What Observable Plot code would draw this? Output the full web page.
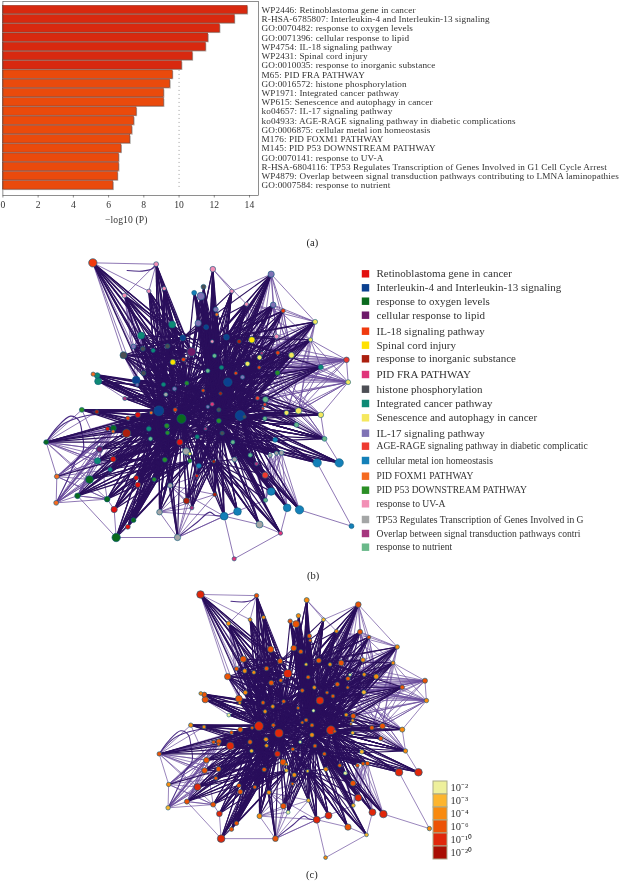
<!DOCTYPE html>
<html><head><meta charset="utf-8">
<script src="https://cdn.jsdelivr.net/npm/d3@7"></script>
<script src="https://cdn.jsdelivr.net/npm/@observablehq/plot@0.6"></script>
<style>
html,body{margin:0;padding:0;background:#fff}
#page{position:relative;width:628px;height:881px;overflow:hidden;font-family:"Liberation Serif",serif;color:#333;filter:blur(.3px)}
#page>*{position:absolute}
#page svg{overflow:visible;background:transparent}
.cap{font-size:10.5px;color:#222}
</style></head><body><div id="page"></div>
<script>
// ---------- panel (a) ----------
const termLabels=["WP2446: Retinoblastoma gene in cancer","R-HSA-6785807: Interleukin-4 and Interleukin-13 signaling","GO:0070482: response to oxygen levels","GO:0071396: cellular response to lipid","WP4754: IL-18 signaling pathway","WP2431: Spinal cord injury","GO:0010035: response to inorganic substance","M65: PID FRA PATHWAY","GO:0016572: histone phosphorylation","WP1971: Integrated cancer pathway","WP615: Senescence and autophagy in cancer","ko04657: IL-17 signaling pathway","ko04933: AGE-RAGE signaling pathway in diabetic complications","GO:0006875: cellular metal ion homeostasis","M176: PID FOXM1 PATHWAY","M145: PID P53 DOWNSTREAM PATHWAY","GO:0070141: response to UV-A","R-HSA-6804116: TP53 Regulates Transcription of Genes Involved in G1 Cell Cycle Arrest","WP4879: Overlap between signal transduction pathways contributing to LMNA laminopathies","GO:0007584: response to nutrient"];
const termValues=[13.89,13.16,12.32,11.66,11.52,10.77,10.16,9.64,9.5,9.14,9.14,7.59,7.45,7.34,7.23,6.73,6.59,6.59,6.52,6.27];
const xTicks=[0,2,4,6,8,10,12,14];
// ---------- panel (b) legend ----------
const clusterNames=["Retinoblastoma gene in cancer","Interleukin-4 and Interleukin-13 signaling","response to oxygen levels","cellular response to lipid","IL-18 signaling pathway","Spinal cord injury","response to inorganic substance","PID FRA PATHWAY","histone phosphorylation","Integrated cancer pathway","Senescence and autophagy in cancer","IL-17 signaling pathway","AGE-RAGE signaling pathway in diabetic complicatic","cellular metal ion homeostasis","PID FOXM1 PATHWAY","PID P53 DOWNSTREAM PATHWAY","response to UV-A","TP53 Regulates Transcription of Genes Involved in G","Overlap between signal transduction pathways contri","response to nutrient"];
const clusterColors=["#e2100f","#0b4090","#0a6a1e","#6d1a6a","#f03a0e","#ffe100","#ab1f0e","#e0357a","#4d4f55","#0d8a75","#f5e85e","#7f72b5","#ee3a30","#1480b8","#f56a20","#2b8f25","#f28fb5","#a4a6a6","#a5367e","#6ab98a"];
const legendRows=[273.3,287.3,300.7,314.7,330.7,344.7,358.3,374,388.7,403,417.3,432.7,445.7,460,475.7,489.7,503.3,519,533,546.7];
// ---------- panel (c) legend ----------
const pLabels=["10⁻²","10⁻³","10⁻⁴","10⁻⁶","10⁻¹⁰","10⁻²⁰"];
const pColors=["#eef09c","#fdb52e","#f98a0e","#ec5306","#e0270a","#a80e02"];
// ---------- network nodes (numbered from 1) ----------
const nodeX=[217,407,577,752,549,521,541,431,385,312,
634,678,758,586,589,788,884,455,533,557,
362,487,618,575,656,694,768,870,339,367,
398,441,513,309,582,724,717,772,813,489,
457,978,681,716,901,603,562,646,771,369,
218,230,233,347,622,666,983,499,429,462,
350,548,436,600,313,711,735,733,727,575,
562,464,595,415,184,229,392,352,322,659,
672,798,834,901,733,483,595,439,279,261,
278,318,385,828,441,555,605,390,530,77,
764,912,478,637,237,497,508,689,749,768,
783,278,231,433,508,642,580,890,956,708,
535,269,109,734,529,207,347,401,352,449,
752,583,171,260,735,498,107,281,514,417,
651,800,837,611,717,339,322,780,287,471,
641,993];
const nodeY=[37,41,56,71,109,127,137,114,122,135,
122,161,163,177,192,181,214,222,218,230,
255,262,260,273,273,268,258,268,288,295,
300,287,304,314,316,308,321,307,314,327,
335,328,340,351,350,351,361,368,367,368,
371,375,392,389,395,380,395,398,402,415,
403,420,432,429,444,443,447,462,474,461,
469,478,478,481,478,484,487,493,503,495,
499,487,481,493,504,505,511,526,533,535,
543,548,535,523,547,535,548,565,559,575,
568,565,575,575,596,603,610,614,614,608,
607,626,631,628,631,627,633,637,637,640,
646,657,678,674,676,687,682,687,703,705,
723,732,736,746,749,751,757,777,772,785,
783,772,778,797,822,809,829,848,861,861,
925,827];
const nodeSize=[12,7,8,9,7,7,11,6,6,7,
6,6,8,7,5,6,7,10,9,7,
10,8,8,5,6,9,7,6,7,7,
6,7,13,10,6,5,7,6,8,6,
8,8,7,5,7,6,6,5,7,7,
6,8,10,11,12,6,7,6,6,6,
5,5,6,5,6,6,8,5,4,6,
5,6,6,14,7,6,5,8,6,14,
5,7,9,8,6,13,7,7,8,6,
5,12,7,7,6,5,6,6,6,7,
7,7,9,6,9,10,5,6,6,6,
7,8,9,7,6,7,5,12,12,6,
7,6,7,9,5,11,7,6,8,7,
11,6,8,8,6,9,7,9,6,8,
11,11,12,11,10,7,7,6,12,9,
6,7];
const nodeCluster=[4,16,16,11,8,13,11,16,16,16,
16,16,11,11,14,4,10,9,11,1,
9,1,1,16,6,5,16,10,11,8,
9,8,3,8,19,18,10,4,10,4,
5,12,10,4,9,9,19,4,15,8,
14,9,9,1,1,11,10,15,9,11,
11,4,17,6,18,12,19,12,12,7,
11,4,8,1,15,6,14,0,4,1,
8,10,10,10,19,2,15,15,2,0,
14,6,9,19,15,18,8,19,9,2,
13,19,0,19,3,17,10,19,17,17,
17,0,9,15,15,17,6,13,13,18,
13,9,14,12,0,2,0,15,0,17,
13,6,2,2,19,6,14,0,18,17,
13,13,13,13,17,2,0,7,2,17,
7,13];
const nodeP=[4,3,2,3,2,3,3,2,2,2,
1,2,3,3,3,3,2,3,3,3,
3,3,3,1,2,3,2,2,3,2,
2,3,4,3,3,0,3,2,2,3,
3,3,3,3,3,2,3,3,1,2,
2,3,3,3,4,3,2,3,3,2,
2,3,2,0,0,2,3,2,3,3,
3,3,3,4,2,2,3,3,3,4,
3,3,3,2,1,4,2,2,3,3,
3,4,3,3,2,0,3,1,3,3,
1,2,4,3,3,3,2,3,3,3,
3,3,3,3,1,2,1,4,4,0,
2,3,2,3,3,4,3,3,3,2,
4,1,3,3,1,3,1,4,0,2,
4,4,4,4,3,3,3,1,4,3,
2,2];
// heavy bundles: every node of the first list is joined to every node of the second
const heavyBundles=[
[[1,2,8,9,10,21,29,30,31,32,34,50],[22,33,41,40,58,59,60,74,72,63]],
[[3,5,6,7,14,15,19,20,4,11,12,13],[24,35,47,46,64,70,71,86,87,73]],
[[16,17,26,27,28,37,38,39,36,43,44,48,25,45,49],[46,64,55,73,87,80,71,23]],
[[82,83,84,85,94,102,67,66,68,69,81],[80,73,87,55,64]],
[[101,102,108,109,110,111,118,119,120,124,131,135,142,143,116,104],[80,87,104,97,73]],
[[121,125,132,136,139,141,144,145,148,117],[87,97,96,86,117,99]],
[[138,146,147,149,134,140,130,128,127,129,126,133],[114,103,88,86,95,115,74]],
[[75,76,77,78,79,89,90,91,92,93,98,105,112,113,122,100],[74,88,95,72,86,103]],
[[51,52,53,54,59,61,63,65],[74,72,60,86,73,62]],
[[74,86,72,60,58,88,95,103,99],[87,73,70,71,64,62,97,96,104,46,47,80,55]],
[[18,22,33,41,40,32],[74,86,72,58,47,35]],
[[23,24,35,46,47],[55,80,87,73,86,58]],
[[114,115,121,125],[87,73,86,97]]
];
// heavy fans: [node, nodes it is joined to]
const heavyFans=[
[74,[21,29,30,31,34,50,52,53,54,61,59,60,63,75,76,77,78,79,89,90,92,93,88,72,86,58,41,32,22,18,10,9,8,2,100,105,112,113,122,127,129,128,95,98,103,114,126,134,138,147,149,146,140,130]],
[86,[72,58,59,60,63,88,95,103,99,114,115,121,125,136,130,128,127,129,138,147,149,146,140,150,139,47,46,35,24,3,7,19,20,87,73,70,71,62,64,97,96,117,104]],
[80,[55,64,73,87,81,85,82,83,84,67,68,69,66,94,102,101,108,109,110,111,118,119,104,116,120,124,131,135,142,143,48,56,44,43,37,39,38,49,45,17,28,13,46,47,25]],
[87,[96,97,99,104,116,117,121,125,132,136,144,141,145,148,131,142,143,135,120,108,109,118,119,102,94,71,70,73,64,62,46,47,35,24,23,12,4,14,19,20,3,72,58]],
[55,[64,56,48,46,25,23,26,43,44,37,36,38,39,16,17,28,13,27,12,4,49,45,66,67,73,81,71,70]],
[64,[46,47,35,24,19,14,7,5,3,23,11,4,58,62,60,59,72,70,71,73]],
[103,[89,90,91,92,93,98,105,112,113,122,123,126,127,128,129,133,134,138,146,147,149,130,140,114,115,121]],
[114,[112,113,122,126,127,128,129,133,134,138,146,147,149,140,130]],
[117,[125,132,136,144,141,145,148,139,116,131,124,135]],
[22,[1,2,8,9,10,21,29,30,31,32,33,41,40,18,20,24,4,12,11]],
[40,[1,8,9,10,2,34,29]],
[58,[1,2,8,9,10,18,21,29,30,31,32,33,34,41,40,50,54,59,60,63]],
[24,[3,4,5,6,7,12,13,14,15,11,19,20,23,25,26,27,16,17]],
[47,[3,4,5,6,7,12,13,14,15,19,20,18,33,40,41,43,37,38]],
[23,[4,12,13,16,14]],
[104,[108,109,110,111,116,120,124,131,135,142,143,145,148,118,119]],
[72,[53,52,51,54,75,78,79,76,90,92]],
[81,[83,84,82,119,118,102,94]],
[150,[130,88,114,95]]
];
// light fans and bundles
const lightBundles=[
[[42,57,45,28,17],[66,67,55,43,37,44,48,82,83,56,49]],
[[123,137,133,100],[89,90,91,122,112,105,134,79,113]],
[[84,102,94],[49,67,44,43,56]],
[[13,16,4,12],[26,37,39,38,43]],
[[10,1,21],[29,30,50,54]],
[[109,110,111,120],[131,124,135,142,143]],
[[150,140,130],[136,139,144,125,132]]
];
const lightFans=[
[1,[2,9,10,21,34]],[2,[9,8,10]],[3,[11,12]],[4,[13,11]],[13,[16,27]],[16,[17,39]],[17,[28,39,27]],
[28,[27,45,38,57]],[42,[57,45,39,38,28,43]],[57,[45,84,67,83,43,49]],[84,[102,67]],[102,[94,119]],[94,[82,66]],
[118,[152]],[143,[152]],[144,[145,135,141]],[151,[148,144]],[148,[142,145]],[150,[149,140,130,144]],
[149,[147,138,133]],[137,[133,123,126,105]],[123,[113,105,100,126]],[133,[126,134]],[100,[89,90,75,76,105]],
[75,[76]],[51,[53,52]],[53,[65]],[34,[54,50]],[21,[10,29]],[138,[134]],[108,[135,131]],[134,[105,123]],
[4,[16,17]],[12,[16,17,28]],[13,[28,17,39,26]],[26,[28,42,45,57]],[37,[42,57,45]],[43,[84,102]],[49,[57,42,102]],
[113,[100,137]],[105,[137,75]],[126,[100,137]],[91,[123,137,100]],[89,[137,123]],[122,[137,133]]
];
// bundled strands that bend
const strandId=[0,0,0,0,0,0,0, 1,1,1,1,1, 2,2,2,2,2, 3,3,3,3, 4,4,4,4];
const strandX=[77,110,150,175,185,188,150, 107,140,170,215,250, 471,530,568,585,611, 77,130,200,270, 407,395,365,320];
const strandY=[575,530,497,510,550,600,645, 757,690,625,585,560, 861,815,785,795,797, 575,520,495,490, 41,55,62,60];

const ids=d3.range(nodeX.length);
const edge=(a,b)=>({x1:nodeX[a-1],y1:nodeY[a-1],x2:nodeX[b-1],y2:nodeY[b-1]});
const expandFans=f=>f.flatMap(([a,bs])=>bs.map(b=>edge(a,b)));
const expandBundles=f=>f.flatMap(([as,bs])=>as.flatMap(a=>bs.map(b=>edge(a,b))));
const heavy=[...expandBundles(heavyBundles),...expandFans(heavyFans)];
const light=[...expandBundles(lightBundles),...expandFans(lightFans)];
const strands=strandId.map((s,i)=>({s,x:strandX[i],y:strandY[i]}));
const page=document.getElementById("page");
function place(el,left,top){el.style.left=left+"px";el.style.top=top+"px";page.appendChild(el);return el;}

// panel (a)
const bars=termLabels.map((t,i)=>({t,v:termValues[i]}));
place(Plot.plot({
  width:628,height:226,marginTop:1,marginBottom:31,marginLeft:2.4,marginRight:370,
  style:{fontFamily:"Liberation Serif, serif",fontSize:"9.2px",letterSpacing:".11px",color:"#333",background:"transparent"},
  x:{domain:[0,14.51],axis:null},
  y:{domain:termLabels,range:[4.36,190],padding:.1,round:false,axis:null},
  marks:[
    Plot.ruleX([10],{y1:()=>termLabels[7],y2:()=>termLabels[19],stroke:"#888",strokeWidth:.8,strokeDasharray:"1,3"}),
    Plot.barX(bars,{x:"v",y:"t",fill:"#b5b0ac",dx:1,dy:1}),
    Plot.barX(bars,{x:"v",y:"t",fill:(d,i)=>i<7?"#d8290f":"#ea4a0c",stroke:"#8a3a28",strokeWidth:.5}),
    Plot.frame({stroke:"#444",strokeWidth:.6}),
    Plot.axisX({ticks:xTicks,tickSize:2.5,tickPadding:3.5,label:null,stroke:"#444",strokeWidth:.6,fontSize:9.6}),
    Plot.axisY({anchor:"right",tickSize:0,tickPadding:3,label:null,textAnchor:"start",fontSize:9.2}),
    Plot.text(["−log10 (P)"],{x:[7],frameAnchor:"bottom",dy:27,fontSize:9.6,fill:"#333"})
  ]
}),0,0);

function network(opts){
  const {w,h,fill,stroke,wHeavy,wLight}=opts;
  return Plot.plot({
    width:w,height:h,margin:0,
    x:{domain:[0,990],range:[0,w],axis:null},
    y:{domain:[0,930],range:[0,h],axis:null},
    r:{type:"linear",domain:[0,12],range:[0,opts.r]},
    style:{background:"transparent"},
    marks:[
      Plot.link(light,{x1:"x1",y1:"y1",x2:"x2",y2:"y2",stroke:"#6a4c9c",strokeWidth:wLight,strokeOpacity:.85}),
      Plot.line(strands,{x:"x",y:"y",z:"s",curve:"catmull-rom",stroke:"#4a2c84",strokeWidth:wLight*1.3}),
      Plot.link(heavy,{x1:"x1",y1:"y1",x2:"x2",y2:"y2",stroke:"#2a0f5c",strokeWidth:wHeavy}),
      Plot.dot(ids,{x:i=>nodeX[i],y:i=>nodeY[i],r:i=>nodeSize[i],fill,stroke,strokeWidth:.6})
    ]
  });
}
// panel (b)
place(network({w:330,h:310,r:4.2,wHeavy:1.2,wLight:.9,stroke:"#0e5a7c",fill:i=>clusterColors[nodeCluster[i]]}),20,250);

// legend (b)
const legendData=clusterNames.map((n,i)=>({n,c:clusterColors[i],y:legendRows[i],f:i<12?11:9.6}));
place(Plot.plot({
  width:268,height:300,margin:0,
  style:{fontFamily:"Liberation Serif, serif",background:"transparent"},
  x:{domain:[0,268],range:[0,268],axis:null},
  y:{domain:[260,560],range:[0,300],axis:null},
  marks:[
    Plot.dot(legendData,{x:()=>25,y:"y",symbol:"square",r:4.2,fill:"c"}),
    Plot.text(legendData.filter(d=>d.f>10),{x:()=>36,y:"y",text:"n",textAnchor:"start",fontSize:11,fill:"#333"}),
    Plot.text(legendData.filter(d=>d.f<10),{x:()=>36,y:"y",text:"n",textAnchor:"start",fontSize:9.6,fill:"#333"})
  ]
}),340,260);

// panel (c)
place(network({w:292,h:275.6,r:3.8,wHeavy:1.05,wLight:.8,stroke:"#0e5a7c",fill:i=>pColors[nodeP[i]]}),136,582.7);

// legend (c)
place(Plot.plot({
  width:40,height:79,marginTop:0,marginBottom:0,marginLeft:0,marginRight:26,
  style:{fontFamily:"Liberation Serif, serif",background:"transparent",color:"#333"},
  x:{axis:null},
  y:{domain:pLabels,padding:0,axis:null},
  color:{type:"identity"},
  marks:[
    Plot.cell(pLabels,{y:d=>d,fill:(d,i)=>pColors[i],stroke:"#a9a98a",strokeWidth:1}),
    Plot.axisY({anchor:"right",tickSize:0,tickPadding:3,label:null,textAnchor:"start",fontSize:10.5})
  ]
}),433,780);

[["(a)",306.5,236.5],["(b)",307,569.5],["(c)",306,869]].forEach(([t,l,tp])=>{
  const d=document.createElement("div");d.className="cap";d.textContent=t;place(d,l,tp);
});
</script></body></html>
